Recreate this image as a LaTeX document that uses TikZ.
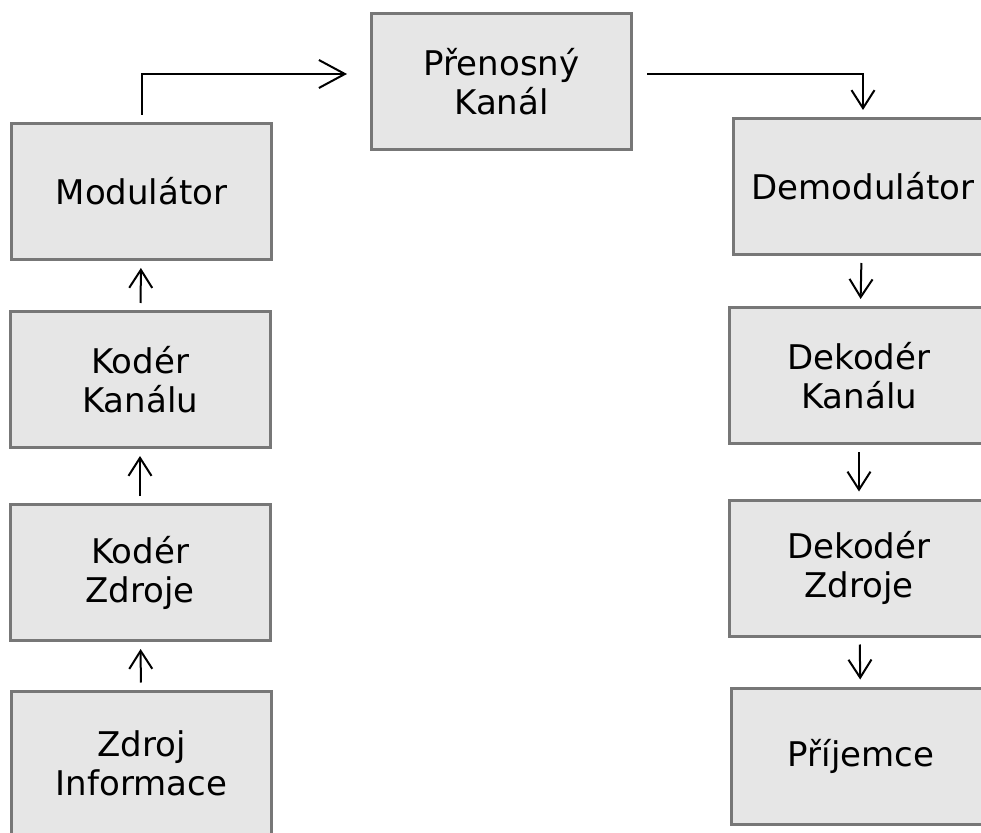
\documentclass[tikz,border=0pt]{standalone}
\usepackage{fontspec}
\setmainfont{DejaVu Sans}
\usepackage{tikz}
\usetikzlibrary{positioning, arrows.meta, calc}
\definecolor{boxfill}{HTML}{E6E6E6}
\definecolor{boxline}{HTML}{777777}
\tikzset{
    block/.style={draw=boxline, fill=boxfill, line width=1.5pt,
        minimum width=130pt, minimum height=68pt, inner sep=0pt,
        align=center, font=\fontsize{17}{19.5}\selectfont},
    conn/.style={-{Straight Barb[length=9pt, width=11.5pt]}, line width=1pt,
        shorten <=3.5pt, shorten >=3.5pt},
    bigconn/.style={conn, -{Straight Barb[length=13pt, width=14pt]}}
}

\begin{document}
\begin{tikzpicture}[x=1pt, y=1pt]

    % picture frame (boxes on the right and bottom run off the edge)
    \clip (0,0) rectangle (490.5,416);

    % =========================================================================
    % LEFT SIDE: Transmitter chain
    % =========================================================================
    \node[block, minimum height=72pt] (zdroj) at (70.75,34.5) {Zdroj\\Informace};
    \node[block] (koderZdr)  at (70,129.75)    {Kodér\\Zdroje};
    \node[block] (koderKan)  at (70,226.25)    {Kodér\\Kanálu};
    \node[block] (modulator) at (70.75,320.25) {Modulátor};

    \draw[conn] (zdroj) -- (koderZdr);
    \draw[conn] (koderZdr) -- (koderKan);
    \draw[conn] (koderKan) -- (modulator);

    % =========================================================================
    % TOP: Channel
    % =========================================================================
    \node[block] (kanal) at (250.75,375.25) {Přenosný\\Kanál};

    \draw[bigconn, shorten >=11.5pt]
        (modulator.north) |- ([yshift=3.75pt]kanal.west);

    % =========================================================================
    % RIGHT SIDE: Receiver chain
    % =========================================================================
    \node[block] (demod)     at (431.5,322.75) {Demodulátor};
    \node[block] (dekodKan)  at (429.5,228.25) {Dekodér\\Kanálu};
    \node[block] (dekodZdr)  at (429.5,132)    {Dekodér\\Zdroje};
    \node[block] (prijemce)  at (430.5,38)     {Příjemce};

    \draw[conn, shorten <=7pt]
        ([yshift=3.75pt]kanal.east) -| (demod.north);
    \draw[conn] (demod) -- (dekodKan);
    \draw[conn] (dekodKan) -- (dekodZdr);
    \draw[conn] (dekodZdr) -- (prijemce);

\end{tikzpicture}
\end{document}
